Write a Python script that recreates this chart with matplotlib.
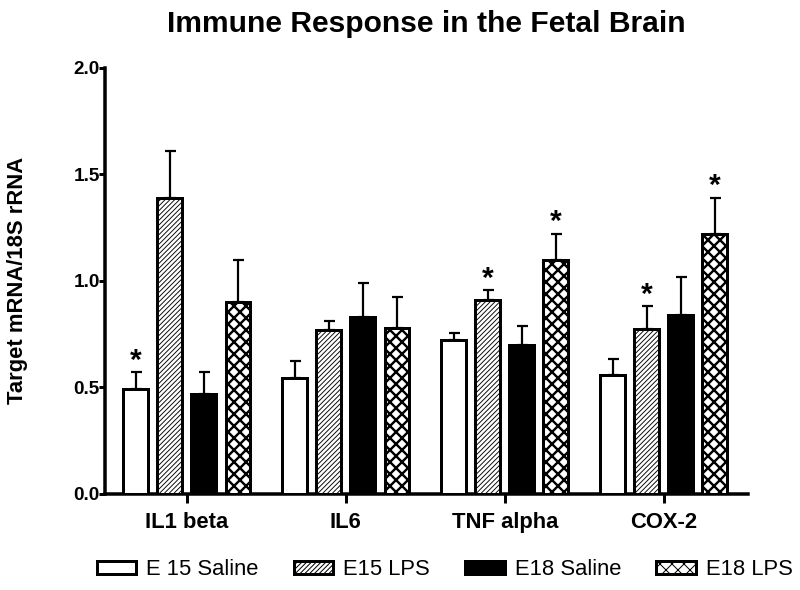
import numpy as np
import matplotlib
matplotlib.use('Agg')
import matplotlib.pyplot as plt
from matplotlib.patches import Patch

plt.rcParams['font.family'] = ['Liberation Sans', 'DejaVu Sans']

genes = ['IL1 beta', 'IL6', 'TNF alpha', 'COX-2']
groups = ['E 15 Saline', 'E15 LPS', 'E18 Saline', 'E18 LPS']

e15_saline = [0.49, 0.545, 0.72, 0.56]
e15_saline_err = [0.08, 0.08, 0.035, 0.075]
e15_lps = [1.39, 0.77, 0.91, 0.775]
e15_lps_err = [0.22, 0.04, 0.045, 0.105]
e18_saline = [0.47, 0.83, 0.70, 0.84]
e18_saline_err = [0.10, 0.16, 0.09, 0.18]
e18_lps = [0.90, 0.78, 1.10, 1.22]
e18_lps_err = [0.20, 0.145, 0.12, 0.17]

# significance marks (gene index, group index)
stars = [(0, 0), (2, 1), (2, 3), (3, 1), (3, 3)]

values = [e15_saline, e15_lps, e18_saline, e18_lps]
errors = [e15_saline_err, e15_lps_err, e18_saline_err, e18_lps_err]
faces = ['white', 'white', 'black', 'white']
hatches = [None, '/////', None, 'xx']
hatch_lw = [1.0, 0.9, 1.0, 2.4]

# dpi 72 so that one point is one pixel
fig = plt.figure(figsize=(800 / 72, 590 / 72), dpi=72)
ax = fig.add_axes([0.131, 0.163, 0.804, 0.722])

x = np.arange(len(genes))
width = 0.157
offsets = [-0.322, -0.107, 0.107, 0.322]

for i in range(4):
    with plt.rc_context({'hatch.linewidth': hatch_lw[i]}):
        ax.bar(x + offsets[i], values[i], width, color=faces[i], edgecolor='black',
               linewidth=3.0, hatch=hatches[i], zorder=3)
    ax.errorbar(x + offsets[i], values[i], yerr=[np.zeros(4), errors[i]], fmt='none',
                ecolor='black', elinewidth=2.2, capsize=5.5, capthick=2.2, zorder=2)

for g, k in stars:
    top = values[k][g] + errors[k][g]
    ax.text(x[g] + offsets[k], top - 0.01, '*', ha='center', va='bottom',
            fontsize=30, fontweight='bold')

ax.set_xlim(-0.516, 3.53)
ax.set_ylim(0, 2.0)
ax.set_yticks([0.0, 0.5, 1.0, 1.5, 2.0])
ax.set_yticklabels(['0.0', '0.5', '1.0', '1.5', '2.0'], fontsize=19, fontweight='bold')
ax.set_xticks(x)
ax.set_xticklabels(genes, fontsize=22, fontweight='bold')
ax.tick_params(axis='y', width=3, length=6, direction='out', pad=-1)
ax.tick_params(axis='x', width=3, length=9, direction='out', pad=9)
for s in ['top', 'right']:
    ax.spines[s].set_visible(False)
for s in ['left', 'bottom']:
    ax.spines[s].set_linewidth(3.5)

ax.set_ylabel('Target mRNA/18S rRNA', fontsize=22, fontweight='bold', labelpad=45)
ax.set_title('Immune Response in the Fetal Brain', fontsize=30, fontweight='bold', pad=36)

handles = []
for i in range(4):
    with plt.rc_context({'hatch.linewidth': hatch_lw[i]}):
        handles.append(Patch(facecolor=faces[i], edgecolor='black', linewidth=3.0,
                             hatch=hatches[i], label=groups[i]))
fig.legend(handles=handles, loc='center', bbox_to_anchor=(0.556, 0.034), ncol=4,
           frameon=False, fontsize=22, handlelength=1.8, handleheight=0.5,
           columnspacing=1.6, handletextpad=0.45, borderpad=0.2)

fig.savefig('out.png', dpi=72)
